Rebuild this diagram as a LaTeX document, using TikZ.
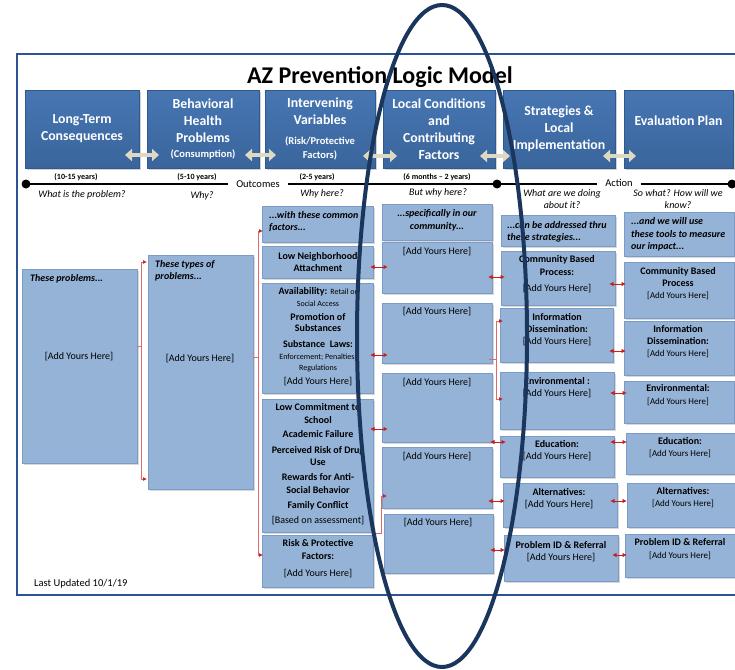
\documentclass[tikz,border=0pt]{standalone}
\usepackage{fontspec}
\setmainfont{Carlito}
\usetikzlibrary{arrows.meta,calc,shadows}
\definecolor{hdrT}{HTML}{4776B3}
\definecolor{hdrD}{HTML}{3A659C}
\definecolor{hdrB}{HTML}{2F5A8E}
\definecolor{lbF}{HTML}{95B3D7}
\definecolor{lbB}{HTML}{7A9CC6}
\definecolor{ellc}{HTML}{1B365D}
\definecolor{framec}{HTML}{2E5395}
\definecolor{beige}{HTML}{DDD9C3}
\definecolor{redc}{HTML}{C81E1E}
\definecolor{redL}{HTML}{E06A6A}
\newcommand\BX[7]{\node[#6, minimum width={(#4-#2)*1pt}, minimum height={(#5-#3)*1pt}] (#1) at ({(#2+#4)/2},{(#3+#5)/2}) {#7};}
\newcommand\rl[6]{\path ($(#1.east)+(#5,#3)$) coordinate (#4);\draw[rarr] (#4) -- ($(#4 -| #2.west)+(#6,0)$);}
\newcommand\fs{\fontsize{8}{10}\selectfont}
\newcommand\fm{\fontsize{10.5}{13}\selectfont}
\newcommand\ayh{[Add Yours Here]}
\newcommand\ays{{\fontsize{9}{12}\selectfont [Add Yours Here]}}
\begin{document}
\begin{tikzpicture}[x=1pt,y=-1pt,
  hdr/.style={draw=hdrB, line width=0.6pt, top color=hdrT, bottom color=hdrD, text=white,
    font=\bfseries\fontsize{13.8}{16.8}\selectfont, align=center, inner sep=0pt, outer sep=0pt,
    drop shadow={shadow xshift=1.5pt,shadow yshift=-1.5pt,opacity=.35}},
  lb/.style={draw=lbB, line width=0.8pt, fill=lbF, inner sep=0pt, outer sep=0pt,
    drop shadow={shadow xshift=1.5pt,shadow yshift=-1.5pt,opacity=.3}},
  txt/.style={align=center, inner sep=0pt, font=\fontsize{10}{12}\selectfont},
  hit/.style={txt, align=left, anchor=west, font=\bfseries\itshape\fontsize{10}{12}\selectfont},
  yr/.style={inner sep=0pt, font=\bfseries\fontsize{8}{10}\selectfont},
  qu/.style={inner sep=0pt, align=center, font=\itshape\fontsize{10}{12}\selectfont},
  tl/.style={inner ysep=0pt, inner xsep=8pt, font=\fontsize{10.5}{12}\selectfont},
  dot/.style={circle, fill=black, minimum size=9pt, inner sep=0pt},
  tline/.style={line width=2pt, black},
  barr/.style={draw=beige, line width=4.5pt, {Triangle[length=7pt,width=12pt]}-{Triangle[length=7pt,width=12pt]}},
  rarr/.style={draw=redc, line width=0.9pt, {Latex[length=4.5pt,width=4.5pt]}-{Latex[length=4.5pt,width=4.5pt]}},
  rline/.style={draw=redL, line width=1pt},
  rtip/.style={rline, -{Latex[length=4pt,width=4pt,color=redc]}},
  frame/.style={draw=framec, line width=1.6pt},
  ell/.style={draw=ellc, line width=4pt}]
\useasboundingbox (0,0) rectangle (735,669);
\fill[white] (0,0) rectangle (735,669);
\draw[frame] (745,54) -- (17,54) -- (17,595) -- (745,595);
\node[inner sep=0pt, anchor=base, font=\bfseries\fontsize{24}{28}\selectfont] (title) at (380,83) {AZ Prevention Logic Model};
% header boxes
\BX{h1}{25}{90}{139}{168}{hdr}{Long-Term\\Consequences}
\BX{h2}{147}{90}{259}{168}{hdr}{Behavioral\\Health\\Problems\\[-2pt]{\fm (Consumption)}}
\BX{h3}{265}{90}{375}{168}{hdr}{Intervening\\Variables\\[3pt]{\fm (Risk/Protective}\\[-3pt]{\fm Factors)}}
\BX{h4}{383}{90}{495}{168}{hdr}{Local Conditions\\and\\Contributing\\Factors}
\BX{h5}{503}{90}{615}{168}{hdr}{Strategies \&\\Local\\Implementation}
\BX{h6}{624}{90}{733}{168}{hdr,text depth=17pt}{Evaluation Plan}
\draw[barr] ($(h1.east)+(-14,26)$) -- ($(h2.west)+(12,26)$);
\draw[barr] ($(h2.east)+(-14,26)$) -- ($(h3.west)+(11,26)$);
\draw[barr] ($(h3.east)+(-12,27)$) -- ($(h4.west)+(14,27)$);
\draw[barr] ($(h4.east)+(-15,27)$) -- ($(h5.west)+(7,27)$);
\draw[barr] ($(h5.east)+(-12,27)$) -- ($(h6.west)+(12,27)$);
% timeline
\node[tl] (out) at (258,184) {Outcomes};
\node[tl] (act) at (619,183) {Action};
\node[dot] (d1) at (26,184) {};
\node[dot] (d2) at (497,184) {};
\node[dot] (d3) at (732,184) {};
\draw[tline] (d1.center) -- (out.west |- d1.center);
\draw[tline] (out.east |- d1.center) -- (d2.center);
\draw[tline] (d2.center) -- (act.west |- d2.center);
\draw[tline] (act.east |- d2.center) -- (d3.center);
\node[yr] (y1) at (76,177) {(10-15 years)};
\node[yr] (y2) at (197,177) {(5-10 years)};
\node[yr] (y3) at (317,177) {(2-5 years)};
\node[yr] (y4) at (437,177) {(6 months – 2 years)};
\node[qu] (q1) at (82,195) {What is the problem?};
\node[qu] (q2) at (202,196) {Why?};
\node[qu] (q3) at (322,194) {Why here?};
\node[qu] (q4) at (438,193) {But why here?};
\node[qu] (q5) at (562,199) {What are we doing\\about it?};
\node[qu] (q6) at (678,199) {So what? How will we\\know?};
% column 1 and 2
\BX{c1}{22}{269}{137}{463}{lb}{}
\BX{c2}{148}{255}{253}{489}{lb}{}
\node[hit] (t1a) at (30,279) {These problems...};
\node[txt] (t1b) at (79,357) {\ayh};
\node[hit] (t2a) at (155,271) {These types of\\problems...};
\node[txt] (t2b) at (200,359) {\ayh};
% column 3
\BX{c3h}{262}{206}{373}{242}{lb}{}
\BX{c3n}{262}{246}{373}{278}{lb}{}
\BX{c3a}{262}{283}{373}{393}{lb}{}
\BX{c3l}{262}{399}{373}{532}{lb}{}
\BX{c3r}{262}{535}{373}{587}{lb}{}
\node[hit] (t3h) at (269,222) {...with these common\\factors...};
\node[txt,font=\bfseries\fontsize{10}{12}\selectfont] (t3n) at (318,262) {Low Neighborhood\\Attachment};
\node[txt,font=\fontsize{10}{11.5}\selectfont] (t3a) at (318,337) {\textbf{Availability:} {\fs Retail or}\\{\fs Social Access}\\[2.5pt]\textbf{Promotion of}\\\textbf{Substances}\\[4.5pt]\textbf{Substance\ \ Laws:}\\{\fs Enforcement; Penalties;}\\{\fs Regulations}\\[2.5pt]\ayh};
\node[txt,font=\fontsize{10}{12.5}\selectfont] (t3l) at (318,464) {\textbf{Low Commitment to}\\\textbf{School}\\[1.5pt]\textbf{Academic Failure}\\[3.5pt]\textbf{Perceived Risk of Drug}\\\textbf{Use}\\[2.5pt]\textbf{Rewards for Anti-}\\\textbf{Social Behavior}\\[2.5pt]\textbf{Family Conflict}\\[2.5pt]{[Based on assessment]}};
\node[txt,font=\fontsize{10}{13}\selectfont] (t3r) at (318,559) {\textbf{Risk \& Protective}\\\textbf{Factors:}\\[4pt]\ayh};
% column 4
\BX{c4h}{382}{204}{492}{240}{lb}{}
\BX{c4a}{382}{242}{492}{293}{lb}{}
\BX{c4b}{382}{303}{492}{363}{lb}{}
\BX{c4c}{382}{373}{492}{442}{lb}{}
\BX{c4d}{382}{447}{492}{508}{lb}{}
\BX{c4e}{384}{514}{493}{573}{lb}{}
\node[txt,font=\bfseries\itshape\fontsize{10}{12.5}\selectfont] (t4h) at (437,220.5) {...specifically in our\\community...};
\node[txt] (t4a) at (437,252) {\ayh};
\node[txt] (t4b) at (437,312) {\ayh};
\node[txt] (t4c) at (437,383) {\ayh};
\node[txt] (t4d) at (437,457) {\ayh};
\node[txt] (t4e) at (438,523) {\ayh};
% column 5
\BX{c5h}{501}{215}{615}{246}{lb}{}
\BX{c5a}{501}{251}{615}{305}{lb}{}
\BX{c5b}{500}{308}{613}{362}{lb}{}
\BX{c5c}{500}{372}{614}{429}{lb}{}
\BX{c5d}{500}{436}{614}{477}{lb}{}
\BX{c5e}{503}{483}{617}{527}{lb}{}
\BX{c5f}{504}{535}{618}{581}{lb}{}
\node[hit] (t5h) at (507,232) {...can be addressed thru\\these strategies...};
\node[txt,font=\fontsize{10}{13}\selectfont] (t5a) at (557,274.5) {\textbf{Community Based}\\\textbf{Process:}\\[3pt]\ayh};
\node[txt] (t5b) at (557,330) {\textbf{Information}\\\textbf{Dissemination:}\\\ayh};
\node[txt] (t5c) at (557,388) {\textbf{Environmental :}\\\ayh};
\node[txt] (t5d) at (557,450.5) {\textbf{Education:}\\\ayh};
\node[txt] (t5e) at (559,499) {\textbf{Alternatives:}\\\ayh};
\node[txt] (t5f) at (561,552) {\textbf{Problem ID \& Referral}\\\ayh};
% column 6
\BX{c6h}{624}{212}{734}{256}{lb}{}
\BX{c6a}{624}{262}{734}{318}{lb}{}
\BX{c6b}{624}{321}{734}{375}{lb}{}
\BX{c6c}{624}{381}{734}{423}{lb}{}
\BX{c6d}{626}{433}{736}{474}{lb}{}
\BX{c6e}{627}{483}{737}{527}{lb}{}
\BX{c6f}{625}{534}{736}{577}{lb}{}
\node[hit,font=\bfseries\itshape\fontsize{10}{12.5}\selectfont] (t6h) at (631,234.5) {...and we will use\\these tools to measure\\our impact...};
\node[txt] (t6a) at (678,283.5) {\textbf{Community Based}\\\textbf{Process}\\\ays};
\node[txt] (t6b) at (678,342) {\textbf{Information}\\\textbf{Dissemination:}\\\ays};
\node[txt,font=\fontsize{10}{13}\selectfont] (t6c) at (678,395.5) {\textbf{Environmental:}\\\ays};
\node[txt] (t6d) at (680,448) {\textbf{Education:}\\\ays};
\node[txt] (t6e) at (683,498) {\textbf{Alternatives:}\\\ays};
\node[txt,font=\fontsize{10}{13}\selectfont] (t6f) at (680,549.5) {\textbf{Problem ID \& Referral}\\\ays};
\node[inner sep=0pt, anchor=west, font=\fontsize{10.5}{12}\selectfont] (upd) at (34,584) {Last Updated 10/1/19};
% red brackets
\path ($(c1.east)+(4,-20)$) coordinate (b1);
\draw[rline] ($(c1.east)+(0,-20)$) -- (b1);
\draw[rtip] (b1) |- ($(c2.west)+(-1,-110)$);
\draw[rtip] (b1) |- ($(c2.west)+(-1,107)$);
\path ($(c2.east)+(5,-15)$) coordinate (b2);
\draw[rline] ($(c2.east)+(0,-15)$) -- (b2);
\draw[rtip] (b2) |- ($(c3h.west)+(1,7)$);
\draw[rtip] (b2) |- ($(c3r.west)+(1,-6)$);
\draw[rtip] ($(c3r.north east)+(0,-2)$) -| ($(c4d.west)+(-1,18.5)$) -- ($(c4d.west)+(5,18.5)$);
\path ($(c4b.east)+(4,26)$) coordinate (b4);
\draw[rline] ($(c4b.east)+(-3,26)$) -- (b4);
\draw[rtip] (b4) |- ($(c5b.west)+(3,-14)$);
\draw[rtip] (b4) |- ($(c5c.west)+(3,-1.5)$);
% red double arrows
\rl{c3n}{c4a}{5}{p1}{-3}{6}
\rl{c3a}{c4b}{17}{p2}{-3}{6}
\rl{c3l}{c4c}{-36.5}{p3}{-3}{6}
\rl{c4a}{c5a}{9.5}{p4}{-4}{4}
\rl{c4c}{c5d}{34.5}{p5}{-2}{6}
\rl{c4d}{c5e}{23.5}{p6}{-4}{2}
\rl{c4e}{c5f}{6.5}{p7}{-3}{1}
\rl{c5a}{c6a}{6}{p8}{-6}{2}
\rl{c5b}{c6b}{16}{p9}{-4}{2}
\rl{c5c}{c6c}{-7.5}{p10}{-4}{3}
\rl{c5d}{c6d}{-14.5}{p11}{-4}{1}
\rl{c5e}{c6e}{-4}{p12}{-7}{0}
\rl{c5f}{c6f}{-3}{p13}{-6}{2}
% ellipse
\draw[ell] (442,336) ellipse [x radius=85, y radius=331];
\end{tikzpicture}
\end{document}
